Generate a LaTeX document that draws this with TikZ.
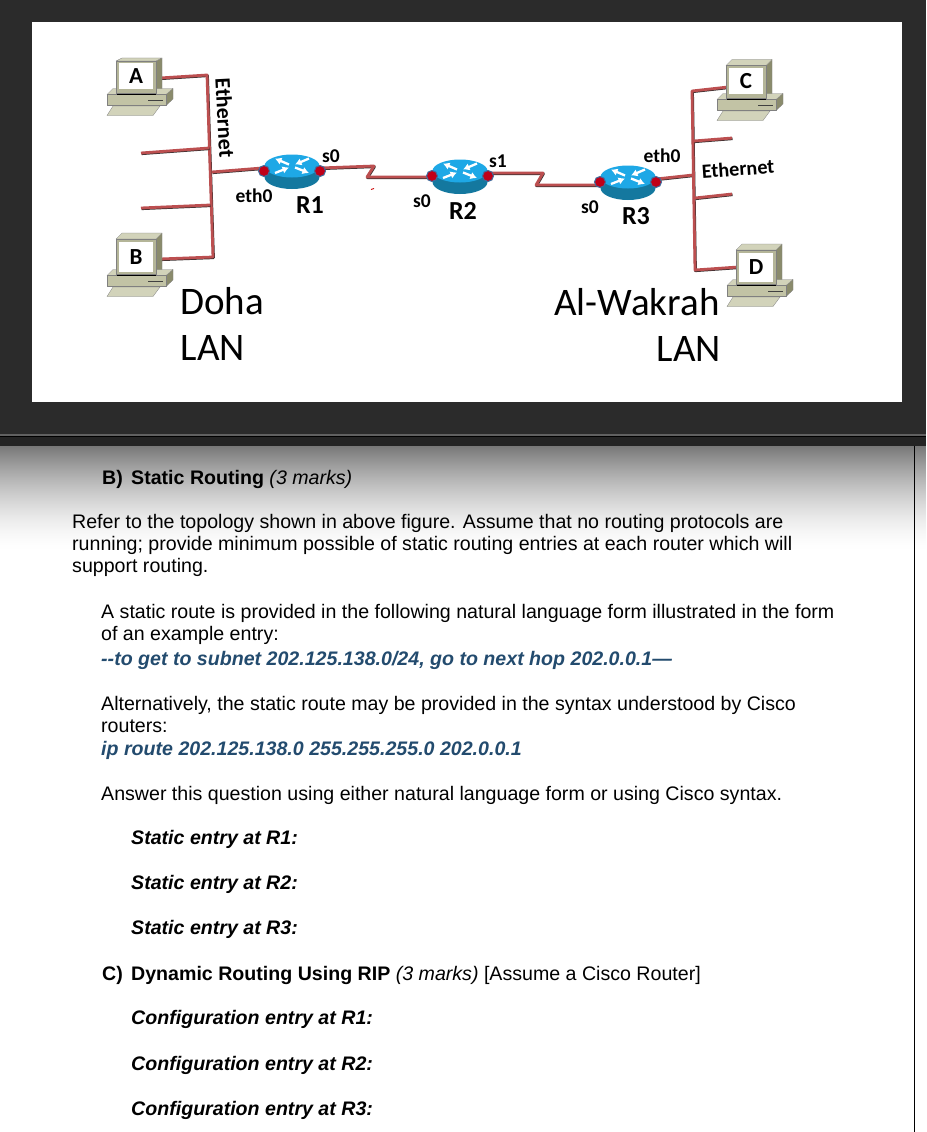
\documentclass[tikz,border=0pt]{standalone}
\usepackage{fontspec}
\setmainfont{Liberation Sans}
\newfontfamily\carl{Carlito}
\usetikzlibrary{arrows.meta,shapes.geometric}
\pgfdeclarelayer{bg}\pgfdeclarelayer{wires}\pgfsetlayers{bg,wires,main}
\definecolor{wirered}{HTML}{BC4F50}
\definecolor{wiredark}{HTML}{3A3030}
\definecolor{pcface}{HTML}{C2C3A5}
\definecolor{pcframe}{HTML}{B4B598}
\definecolor{pcside}{HTML}{8A8B6C}
\definecolor{pctop}{HTML}{D2D3BA}
\definecolor{rtop}{HTML}{1EA8E6}
\definecolor{rbody}{HTML}{14789F}
\definecolor{portred}{HTML}{C00018}
\definecolor{portring}{HTML}{3F6C9E}
\definecolor{darkbg}{HTML}{2B2B2B}
\definecolor{answerblue}{HTML}{234B6E}
\def\mtop{-21.5}
\def\mfront{-15.5}
\def\scrh{25}
\tikzset{
  pcpart/.style={draw=black!50,line width=.3pt,line join=round},
  wire/.style={draw=wirered,line width=2.8pt,line join=round,
    preaction={draw=wiredark,line width=2.8pt,line join=round,transform canvas={shift={(0.5pt,-0.7pt)}}}},
  portdot/.style={circle,fill=portred,draw=portring,line width=1pt,minimum size=11pt,inner sep=0pt},
  pcletter/.style={font=\carl\bfseries\fontsize{23}{23}\selectfont,inner sep=0pt},
  netlabel/.style={font=\carl\bfseries\fontsize{19.5}{19.5}\selectfont,inner sep=0pt},
  ethleft/.style={font=\carl\bfseries\fontsize{22}{22}\selectfont,inner sep=0pt},
  ethright/.style={font=\carl\bfseries\fontsize{20.2}{20.2}\selectfont,inner sep=0pt},
  routername/.style={font=\carl\bfseries\fontsize{26}{26}\selectfont,inner sep=0pt},
  lanlabel/.style={font=\carl\fontsize{39}{39}\selectfont,inner sep=0pt},
  bodytext/.style={anchor=base west,inner sep=0pt,font=\fontsize{19.6}{21}\selectfont},
  bluetext/.style={bodytext,text=answerblue},
  arrowwhite/.style={draw=white,line width=2.3pt,-{Latex[length=6.5pt,width=7.5pt]}},
  computer/.pic={
    \fill[pcside,pcpart] (19,\mfront)--(25,\mtop)--(25,16)--(19,17.5)--cycle;
    \fill[pctop,pcpart] (-21,\mfront)--(-15,\mtop)--(25,\mtop)--(19,\mfront)--cycle;
    \fill[pcside,pcpart] (29,18.5)--(36,12.5)--(36,23)--(29,29.5)--cycle;
    \fill[pctop,pcpart] (-30,18.5)--(-24,12.5)--(36,12.5)--(29,18.5)--cycle;
    \fill[pcface,pcpart] (-30,18.5) rectangle (29,29.5);
    \fill[pcframe,pcpart] (-21,\mfront) rectangle (19,17.5);
    \draw[black,line width=1pt] (-20,18)--(19,18);
    \draw[black!75,line width=.8pt] (11,24)--(26,24);
    \fill[pctop,pcpart] (-30,39.5)--(-24,30)--(23,30)--(16,39.5)--cycle;
    \node[fill=white,minimum width=34pt,minimum height=\scrh pt,inner sep=0pt,pcletter] (screen) at (-1,0) {\tikzpictext};
  },
  routerpic/.pic={
    \fill[rbody] (-27.5,0) -- (-27.5,11) arc[x radius=27.5,y radius=-12,start angle=180,end angle=360] -- (27.5,0) -- cycle;
    \fill[rtop] (0,0) ellipse[x radius=27.5,y radius=11.5];
    \draw[arrowwhite] (-3,-1.5)--(-17,-7.5);
    \draw[arrowwhite] (17,-7.5)--(3,-1.5);
    \draw[arrowwhite] (-17,7)--(-3,1.5);
    \draw[arrowwhite] (3,1.5)--(17,7);
    \coordinate (lw) at (-30,2);
    \coordinate (rw) at (28,2);
    \node[portdot] (l) at (-28,5) {};
    \node[portdot] (r) at (28,5) {};
  },
}
\begin{document}
\begin{tikzpicture}[x=1pt,y=-1pt]
\useasboundingbox (0,0) rectangle (926,1132);
\begin{pgfonlayer}{bg}
  \fill[darkbg] (0,0) rectangle (926,445.5);
  \fill[white] (32,22) rectangle (902,402);
  \fill[black!62] (0,433.5) rectangle (926,435.5);
  \fill[black] (0,436) rectangle (926,437);
  \fill[black!86] (0,437) rectangle (926,445.5);
  \foreach \i in {0,...,104} {
    \pgfmathsetmacro{\gv}{1-0.53*(1-\i/105)^1.6}
    \definecolor{fadestep}{gray}{\gv}
    \fill[fadestep] (0,445.5+\i) rectangle (926,551);
  }
  \draw[black,line width=1pt] (914.5,445.5)--(914.5,1132);
\end{pgfonlayer}

% computers
\begingroup
\def\mtop{-18}\def\mfront{-15}
\pic[pic text={A}] (pcA) at (137,76) {computer};
\endgroup
\begingroup
\def\mtop{-24}\def\mfront{-18}\def\scrh{30}
\pic[pic text={B}] (pcB) at (137,257) {computer};
\endgroup
\pic[pic text={C}] (pcC) at (747,81) {computer};
\begingroup
\def\mtop{-23}\def\mfront{-17}\def\scrh{29}
\pic[pic text={D}] (pcD) at (757,267) {computer};
\endgroup

% routers
\pic (rA) at (292,166) {routerpic};
\pic (rB) at (460,171) {routerpic};
\pic (rC) at (628,177) {routerpic};

% wire points
\coordinate (ltop) at (207,75);
\coordinate (lbot) at (213,257);
\coordinate (lstubA) at (209,148);
\coordinate (lstubB) at (210,205);
\coordinate (lstubAend) at (141,153);
\coordinate (lstubBend) at (141,208);
\coordinate (ljoin) at (212,172);
\coordinate (aport) at (160,78);
\coordinate (bport) at (160,259);
\coordinate (zaA) at (374,166);
\coordinate (zaB) at (367,177);
\coordinate (zbA) at (543,173);
\coordinate (zbB) at (536,185);
\coordinate (rtop) at (692,91);
\coordinate (rbot) at (695,270);
\coordinate (cport) at (728,87);
\coordinate (dport) at (738,267);
\coordinate (rstubA) at (694,141);
\coordinate (rstubB) at (695,198);
\coordinate (rstubAend) at (732,138);
\coordinate (rstubBend) at (732,194);
\coordinate (rjoin) at (693,175);
\coordinate (speckA) at (371,189.5);
\coordinate (speckB) at (374,188.5);

\begin{pgfonlayer}{wires}
  \draw[wire] (aport)--(ltop)--(lbot)--(bport);
  \draw[wire] (lstubAend)--(lstubA);
  \draw[wire] (lstubBend)--(lstubB);
  \draw[wire] (ljoin)--(rAlw);
  \draw[wire] (rArw)--(zaA)--(zaB)--([yshift=-1pt]rBl.center);
  \draw[wire] ([yshift=3pt]rBr.center)--(zbA)--(zbB)--([yshift=-3pt]rCl.center);
  \draw[wire] (rCrw)--(rjoin);
  \draw[wire] (cport)--(rtop)--(rbot)--(dport);
  \draw[wire] (rstubA)--(rstubAend);
  \draw[wire] (rstubB)--(rstubBend);
  \draw[draw=red!80!black,line width=.8pt] (speckA)--(speckB);
\end{pgfonlayer}

% diagram labels
\node[ethleft,rotate=-87] (ethL) at (225,118) {Ethernet};
\node[ethright,rotate=4] (ethR) at (738,169) {Ethernet};
\node[netlabel] (e0a) at (254,196) {eth0};
\node[netlabel] (s0a) at (331,156) {s0};
\node[routername] (nR1) at (310,205) {R1};
\node[netlabel] (s0b) at (422,201) {s0};
\node[routername] (nR2) at (463,211) {R2};
\node[netlabel] (s1b) at (498,161) {s1};
\node[netlabel] (s0c) at (590,207) {s0};
\node[routername] (nR3) at (636,216) {R3};
\node[netlabel] (e0c) at (662,156) {eth0};
\node[lanlabel] (doha) at (222,301) {Doha};
\node[lanlabel] (lanL) at (213,348) {LAN};
\node[lanlabel] (wak) at (637,302) {Al-Wakrah};
\node[lanlabel] (lanR) at (689,349) {LAN};

% text
\node[bodytext] (t1) at (102,484) {\textbf{\makebox[29pt][l]{B)}Static Routing} \textit{(3 marks)}};
\node[bodytext] (t2) at (72,528.5) {Refer to the topology shown in above figure. Assume that no routing protocols are};
\node[bodytext] (t3) at (72,550.5) {running; provide minimum possible of static routing entries at each router which will};
\node[bodytext] (t4) at (72,572.5) {support routing.};
\node[bodytext] (t5) at (101,618.5) {A static route is provided in the following natural language form illustrated in the form};
\node[bodytext] (t6) at (101,640) {of an example entry:};
\node[bluetext] (t7) at (101,665.5) {\textbf{\textit{-{}-to get to subnet 202.125.138.0/24, go to next hop 202.0.0.1—}}};
\node[bodytext] (t8) at (101,710) {Alternatively, the static route may be provided in the syntax understood by Cisco};
\node[bodytext] (t9) at (101,732) {routers:};
\node[bluetext] (t10) at (101,755.5) {\textbf{\textit{ip route 202.125.138.0 255.255.255.0 202.0.0.1}}};
\node[bodytext] (t11) at (101,800.5) {Answer this question using either natural language form or using Cisco syntax.};
\node[bodytext] (t12) at (131,844.5) {\textbf{\textit{Static entry at R1:}}};
\node[bodytext] (t13) at (131,889.5) {\textbf{\textit{Static entry at R2:}}};
\node[bodytext] (t14) at (131,934.5) {\textbf{\textit{Static entry at R3:}}};
\node[bodytext] (t15) at (102,980) {\textbf{\makebox[29pt][l]{C)}Dynamic Routing Using RIP} \textit{(3 marks)} [Assume a Cisco Router]};
\node[bodytext] (t16) at (131,1024.5) {\textbf{\textit{Configuration entry at R1:}}};
\node[bodytext] (t17) at (131,1070.5) {\textbf{\textit{Configuration entry at R2:}}};
\node[bodytext] (t18) at (131,1115.5) {\textbf{\textit{Configuration entry at R3:}}};
\end{tikzpicture}
\end{document}
